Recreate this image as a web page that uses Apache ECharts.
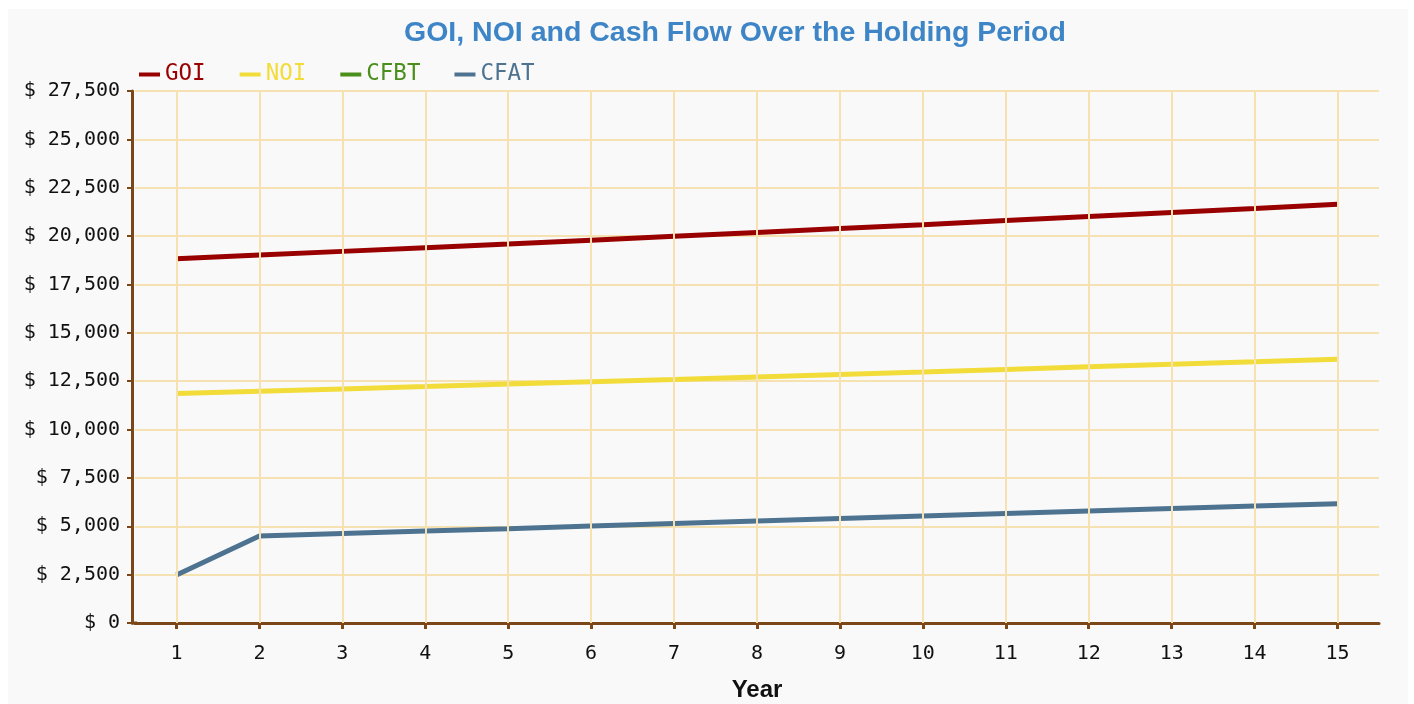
<!DOCTYPE html>
<html>
<head>
<meta charset="utf-8">
<script src="https://cdn.jsdelivr.net/npm/echarts@6/dist/echarts.min.js"></script>
<style>
html,body{margin:0;padding:0;background:#ffffff;}
#chart{width:1414px;height:704px;}
</style>
</head>
<body>
<div id="chart"></div>
<script>
const years = ['1','2','3','4','5','6','7','8','9','10','11','12','13','14','15'];
const goi  = [18830,19020,19210,19400,19590,19790,19990,20190,20390,20590,20800,21010,21220,21430,21650];
const noi  = [11860,11980,12100,12220,12350,12470,12590,12720,12850,12970,13110,13240,13370,13500,13640];
const cfbt = [2480,4500,4630,4750,4870,5010,5140,5270,5400,5530,5660,5790,5920,6050,6170];
const cfat = [2480,4500,4630,4750,4870,5010,5140,5270,5400,5530,5660,5790,5920,6050,6170];
const seriesNames = ['GOI','NOI','CFBT','CFAT'];
const seriesColors = ['#990000','#f2dc3a','#4a8f1c','#4e7390'];
const seriesWidths = [5,5,3,5];
const titleText = 'GOI, NOI and Cash Flow Over the Holding Period';
const xName = 'Year';

const axisBrown = '#7b4719';
const gridColor = '#f6e2b0';
const monoFont = '"DejaVu Sans Mono", monospace';

const chart = echarts.init(document.getElementById('chart'), null, {renderer:'canvas'});
const values = [goi, noi, cfbt, cfat];

const series = [{
  name: '__grid',
  type: 'line',
  data: [],
  z: 1,
  silent: true,
  markLine: {
    silent: true,
    symbol: ['none','none'],
    label: {show:false},
    lineStyle: {color: gridColor, width: 2, type: 'solid'},
    emphasis: {disabled: true},
    data: years.map(y => ({xAxis: y}))
  }
}];
seriesNames.forEach((n, i) => {
  series.push({
    name: n,
    type: 'line',
    data: values[i],
    showSymbol: false,
    symbol: 'none',
    z: 3,
    lineStyle: {color: seriesColors[i], width: seriesWidths[i]},
    itemStyle: {color: seriesColors[i]},
    emphasis: {disabled: true}
  });
});

chart.setOption({
  animation: false,
  backgroundColor: 'transparent',
  graphic: [{
    type: 'rect', z: -10, silent: true,
    shape: {x: 8, y: 9, width: 1400, height: 695},
    style: {fill: '#f9f9f9'}
  }, {
    type: 'line', z: 10, silent: true,
    shape: {x1: 131, y1: 623, x2: 137, y2: 623},
    style: {stroke: axisBrown, lineWidth: 3}
  }],
  title: {
    text: titleText,
    left: 399,
    top: 14,
    textStyle: {
      fontFamily: '"Liberation Sans", Arial, sans-serif',
      fontWeight: 'bold',
      fontSize: 28.5,
      color: '#3d85c6'
    }
  },
  legend: {
    left: 134,
    top: 58,
    icon: 'rect',
    itemWidth: 21,
    itemHeight: 4,
    itemGap: 34,
    selectedMode: false,
    textStyle: {fontFamily: monoFont, fontSize: 22.5},
    data: seriesNames.map((n, i) => ({name: n, textStyle: {color: seriesColors[i]}}))
  },
  grid: {left: 135, right: 35, top: 91, bottom: 81, containLabel: false, outerBoundsMode: 'none'},
  xAxis: {
    type: 'category',
    data: years,
    boundaryGap: true,
    name: xName,
    nameLocation: 'middle',
    nameGap: 55,
    nameTextStyle: {fontFamily: '"Liberation Sans", Arial, sans-serif', fontWeight: 'bold', fontSize: 24, color: '#111'},
    axisLine: {lineStyle: {color: axisBrown, width: 3}},
    axisTick: {show: true, alignWithLabel: true, length: 6, lineStyle: {color: axisBrown, width: 3}},
    axisLabel: {fontFamily: monoFont, fontSize: 20, color: '#111', margin: 21},
    splitLine: {show: false}
  },
  yAxis: {
    type: 'value',
    min: 0,
    max: 27500,
    interval: 2500,
    offset: 3,
    axisLine: {show: true, lineStyle: {color: axisBrown, width: 3}},
    axisTick: {show: true, length: 5, lineStyle: {color: axisBrown, width: 2}},
    axisLabel: {
      fontFamily: monoFont, fontSize: 20, color: '#111', margin: 12,
      formatter: v => '$ ' + v.toLocaleString('en-US')
    },
    splitLine: {show: true, lineStyle: {color: gridColor, width: 2}}
  },
  series: series
});
</script>
</body>
</html>
